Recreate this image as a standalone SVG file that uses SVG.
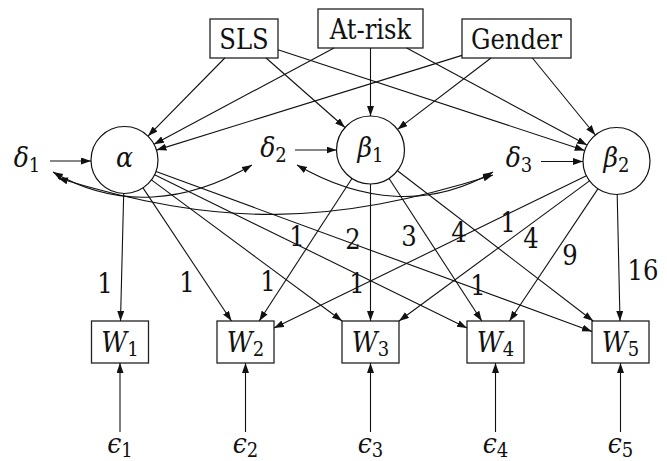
<svg xmlns="http://www.w3.org/2000/svg" width="667" height="461" viewBox="0 0 667 461">
<style>
.box{fill:white;stroke:#222;stroke-width:1.3}
.circ{fill:none;stroke:#111;stroke-width:1.2}
text{fill:#111;font-family:'DejaVu Serif Condensed','DejaVu Serif',serif;font-stretch:condensed}
.t{font-size:27px;text-anchor:middle}
.m{font-size:28px;font-style:italic;text-anchor:middle}
.sub{font-style:normal;font-size:20px}
.lab{font-size:27px;text-anchor:middle}
.c path,.c line{stroke:#111;stroke-width:1.1;fill:none}
.a{marker-end:url(#ah)}
.d{marker-end:url(#ah);marker-start:url(#ah)}
</style>
<defs>
<marker id="ah" markerUnits="userSpaceOnUse" markerWidth="11" markerHeight="8" refX="10" refY="3.5" orient="auto-start-reverse">
<path d="M0,0 L10,3.5 L0,7 z" fill="#111"/>
</marker>
</defs>

<g id="SLS"><rect class="box" x="210" y="19" width="68" height="39"/><text class="t" x="244" y="48.5">SLS</text></g>
<g id="Atrisk"><rect class="box" x="318" y="9" width="105" height="39"/><text class="t" x="370.5" y="38.5">At-risk</text></g>
<g id="Gender"><rect class="box" x="462" y="19" width="109" height="39"/><text class="t" x="516.5" y="48.5">Gender</text></g>

<g id="alpha"><circle class="circ" cx="124.5" cy="160" r="33.5"/><text class="m" x="124.5" y="167">α</text></g>
<g id="beta1"><circle class="circ" cx="370.5" cy="150" r="34"/><text class="m" x="370.5" y="157">β<tspan class="sub" dy="5">1</tspan></text></g>
<g id="beta2"><circle class="circ" cx="616.5" cy="161" r="33.5"/><text class="m" x="616.5" y="167">β<tspan class="sub" dy="5">2</tspan></text></g>

<g id="delta1"><text class="m" x="27" y="167">δ<tspan class="sub" dy="5">1</tspan></text></g>
<g id="delta2"><text class="m" x="273.5" y="157">δ<tspan class="sub" dy="5">2</tspan></text></g>
<g id="delta3"><text class="m" x="519" y="167">δ<tspan class="sub" dy="5">3</tspan></text></g>

<g id="W1"><rect class="box" x="91.5" y="321" width="57" height="42"/><text class="m" x="120" y="352">W<tspan class="sub" dy="4">1</tspan></text></g>
<g id="W2"><rect class="box" x="217" y="321" width="57" height="42"/><text class="m" x="245.5" y="352">W<tspan class="sub" dy="4">2</tspan></text></g>
<g id="W3"><rect class="box" x="342" y="321" width="57" height="42"/><text class="m" x="370.5" y="352">W<tspan class="sub" dy="4">3</tspan></text></g>
<g id="W4"><rect class="box" x="467" y="321" width="57" height="42"/><text class="m" x="495.5" y="352">W<tspan class="sub" dy="4">4</tspan></text></g>
<g id="W5"><rect class="box" x="592" y="321" width="57" height="42"/><text class="m" x="620.5" y="352">W<tspan class="sub" dy="4">5</tspan></text></g>

<g id="eps1"><text class="m" x="120" y="453">ϵ<tspan class="sub" dy="4">1</tspan></text></g>
<g id="eps2"><text class="m" x="245.5" y="453">ϵ<tspan class="sub" dy="4">2</tspan></text></g>
<g id="eps3"><text class="m" x="370.5" y="453">ϵ<tspan class="sub" dy="4">3</tspan></text></g>
<g id="eps4"><text class="m" x="495.5" y="453">ϵ<tspan class="sub" dy="4">4</tspan></text></g>
<g id="eps5"><text class="m" x="620.5" y="453">ϵ<tspan class="sub" dy="4">5</tspan></text></g>

<g id="connectors" class="c">
<line class="a" x1="224.8" y1="58" x2="148" y2="136.1"/>
<line class="a" x1="266.1" y1="58" x2="345" y2="127.5"/>
<line class="a" x1="278" y1="49.7" x2="584.7" y2="150.5"/>
<line class="a" x1="334" y1="48" x2="154" y2="144.2"/>
<line class="a" x1="370.5" y1="48" x2="370.5" y2="116"/>
<line class="a" x1="406.7" y1="48" x2="587" y2="145.1"/>
<line class="a" x1="462" y1="55.4" x2="156.5" y2="150.1"/>
<line class="a" x1="491" y1="58" x2="397.5" y2="129.4"/>
<line class="a" x1="532.4" y1="58" x2="595.3" y2="135"/>

<line class="a" x1="50" y1="161" x2="91" y2="161"/>
<line class="a" x1="295" y1="150" x2="336.5" y2="150"/>
<line class="a" x1="541" y1="161.5" x2="583" y2="161.5"/>

<path class="d" d="M53,172 C118,210 187,203 252,165"/>
<path class="d" d="M58,178 C220,228 331,226 493,175"/>
<path class="d" d="M297,165 C361,202 429,209 493,172"/>

<line class="a" x1="123.7" y1="193.5" x2="120.5" y2="321"/>
<line class="a" x1="143" y1="187.9" x2="231.5" y2="321"/>
<line class="a" x1="151.4" y1="179.9" x2="342.1" y2="321"/>
<line class="a" x1="154.6" y1="174.8" x2="467" y2="328"/>
<line class="a" x1="156" y1="171.5" x2="592" y2="331.5"/>

<line class="a" x1="351.95" y1="178.5" x2="259.2" y2="321"/>
<line class="a" x1="370.5" y1="184" x2="370.5" y2="321"/>
<line class="a" x1="389.05" y1="178.5" x2="481.8" y2="321"/>
<line class="a" x1="397.5" y1="170.7" x2="593.15" y2="321"/>

<line class="a" x1="586.4" y1="175.7" x2="274" y2="328.1"/>
<line class="a" x1="589.5" y1="180.9" x2="399" y2="321"/>
<line class="a" x1="597.9" y1="188.85" x2="509.5" y2="321"/>
<line class="a" x1="617.2" y1="194.5" x2="620" y2="321"/>

<line class="a" x1="120" y1="432" x2="120" y2="363"/>
<line class="a" x1="245.5" y1="432" x2="245.5" y2="363"/>
<line class="a" x1="370.5" y1="432" x2="370.5" y2="363"/>
<line class="a" x1="495.5" y1="432" x2="495.5" y2="363"/>
<line class="a" x1="620.5" y1="432" x2="620.5" y2="363"/>
</g>

<g id="labels">
<text class="lab" x="105" y="293">1</text>
<text class="lab" x="187" y="292">1</text>
<text class="lab" x="268" y="291">1</text>
<text class="lab" x="357" y="293">1</text>
<text class="lab" x="478" y="295">1</text>
<text class="lab" x="297" y="246">1</text>
<text class="lab" x="353" y="249">2</text>
<text class="lab" x="409" y="246">3</text>
<text class="lab" x="459" y="242">4</text>
<text class="lab" x="508" y="232">1</text>
<text class="lab" x="531" y="248">4</text>
<text class="lab" x="570" y="265">9</text>
<text class="lab" x="643" y="280">16</text>
</g>
</svg>
